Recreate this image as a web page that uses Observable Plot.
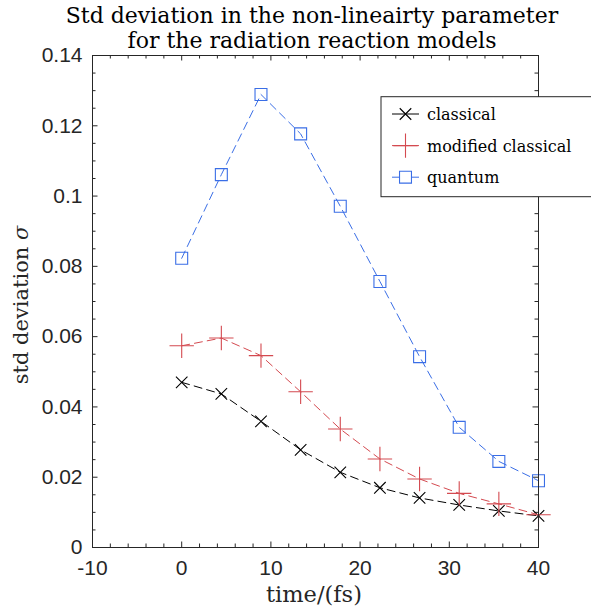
<!DOCTYPE html>
<html><head><meta charset="utf-8">
<script src="https://cdn.jsdelivr.net/npm/d3@7"></script>
<script src="https://cdn.jsdelivr.net/npm/@observablehq/plot@0.6"></script>
<style>
html,body{margin:0;padding:0;background:#fff;}
body{width:591px;height:613px;overflow:hidden;}
#title{position:relative;z-index:2;height:52px;width:591px;font-family:"DejaVu Serif","Liberation Serif",serif;font-size:22px;line-height:24px;color:#000;}
#title div{position:absolute;left:0;width:624px;text-align:center;white-space:nowrap;}
#chart svg{background:transparent;}
</style></head><body>
<div id="title"><div style="top:4px">Std deviation in the non-lineairty parameter</div><div style="top:29px">for the radiation reaction models</div></div>
<div id="chart"></div>
<script>
// ---- data ----
const time = [0, 4.444, 8.889, 13.333, 17.778, 22.222, 26.667, 31.111, 35.556, 40];
const classical = [0.0470, 0.0437, 0.0359, 0.0278, 0.0214, 0.0170, 0.0141, 0.0121, 0.0104, 0.0090];
const modifiedClassical = [0.0574, 0.0596, 0.0546, 0.0443, 0.0337, 0.0252, 0.0195, 0.0154, 0.0124, 0.0093];
const quantum = [0.0823, 0.1061, 0.1289, 0.1177, 0.0971, 0.0757, 0.0543, 0.0342, 0.0245, 0.0190];
const seriesNames = ["classical", "modified classical", "quantum"];
const xTicks = [-10, 0, 10, 20, 30, 40];
const xTickLabels = ["-10", "0", "10", "20", "30", "40"];
const xMinorTicks = [-8, -6, -4, -2, 2, 4, 6, 8, 12, 14, 16, 18, 22, 24, 26, 28, 32, 34, 36, 38];
const yTicks = [0, 0.02, 0.04, 0.06, 0.08, 0.1, 0.12, 0.14];
const yTickLabels = ["0", "0.02", "0.04", "0.06", "0.08", "0.1", "0.12", "0.14"];
const yMinorTicks = [0.005, 0.01, 0.015, 0.025, 0.03, 0.035, 0.045, 0.05, 0.055, 0.065, 0.07, 0.075,
  0.085, 0.09, 0.095, 0.105, 0.11, 0.115, 0.125, 0.13, 0.135];

// ---- styling ----
const colors = ["#000000", "#d44a50", "#3a6ee6"];
const symbols = ["times", "plus", "square2"];
const radii = [5.3, 7.9, 7.6];
const axisColor = "#262626";
const serif = "'DejaVu Serif', 'Liberation Serif', serif";
const sans = "'Liberation Sans', Arial, Helvetica, sans-serif";

const W = 591, H = 561, mT = 3, mB = 66, mL = 92, mR = 53;
const plotW = W - mL - mR, plotH = H - mT - mB;
const major = 5.5, minor = 3.5;

const seriesValues = [classical, modifiedClassical, quantum];
const table = seriesValues.map((vals, s) => time.map((t, i) => ({t, v: vals[i], s})));

const marks = [
  Plot.ruleX(xTicks, {x: d => d, insetTop: plotH - major, stroke: axisColor}),
  Plot.ruleX(xTicks, {x: d => d, insetBottom: plotH - major, stroke: axisColor}),
  Plot.ruleX(xMinorTicks, {x: d => d, insetTop: plotH - minor, stroke: axisColor}),
  Plot.ruleX(xMinorTicks, {x: d => d, insetBottom: plotH - minor, stroke: axisColor}),
  Plot.ruleY(yTicks, {y: d => d, insetRight: plotW - major, stroke: axisColor}),
  Plot.ruleY(yTicks, {y: d => d, insetLeft: plotW - major, stroke: axisColor}),
  Plot.ruleY(yMinorTicks, {y: d => d, insetRight: plotW - minor, stroke: axisColor}),
  Plot.ruleY(yMinorTicks, {y: d => d, insetLeft: plotW - minor, stroke: axisColor}),
  Plot.axisX(xTicks, {tickSize: 0, tickPadding: 13, fontSize: 21, fontFamily: sans, label: null,
    tickFormat: d => xTickLabels[xTicks.indexOf(d)]}),
  Plot.axisY(yTicks, {tickSize: 0, tickPadding: 10, fontSize: 21, fontFamily: sans, label: null,
    tickFormat: d => yTickLabels[yTicks.indexOf(d)]}),
];
table.forEach((rows, s) => {
  marks.push(Plot.line(rows, {x: "t", y: "v", stroke: colors[s], strokeWidth: 1, strokeDasharray: "8,5"}));
  marks.push(Plot.dot(rows, {x: "t", y: "v", symbol: symbols[s], r: radii[s], stroke: colors[s], fill: "none", strokeWidth: 1.1}));
});
marks.push(Plot.frame({stroke: axisColor, strokeWidth: 1}));

const chart = Plot.plot({
  width: W, height: H,
  marginTop: mT, marginBottom: mB, marginLeft: mL, marginRight: mR,
  style: {color: axisColor, background: "transparent", overflow: "visible"},
  x: {domain: [-10, 40]},
  y: {domain: [0, 0.14]},
  marks
});
document.getElementById("chart").appendChild(chart);

// ---- axis labels and legend ----
const svg = d3.select(chart);
svg.append("text")
  .attr("transform", `translate(28,${mT + plotH / 2 + 4}) rotate(-90)`)
  .attr("text-anchor", "middle").attr("font-family", serif).attr("font-size", 21).attr("fill", axisColor)
  .call(t => { t.append("tspan").text("std deviation "); t.append("tspan").attr("font-style", "italic").text("σ"); });
svg.append("text")
  .attr("x", mL + plotW / 2 - 1).attr("y", 550)
  .attr("text-anchor", "middle").attr("font-family", serif).attr("font-size", 22.5).attr("fill", axisColor)
  .text("time/(fs)");

const lg = svg.append("g").attr("transform", "translate(381,44.7)");
lg.append("rect").attr("width", 260).attr("height", 100).attr("fill", "#fff").attr("stroke", axisColor).attr("stroke-width", 1);
const symMap = {times: d3.symbolTimes, plus: d3.symbolPlus, square2: d3.symbolSquare2};
seriesNames.forEach((name, s) => {
  const y = 17.3 + s * 31.6;
  lg.append("line").attr("x1", 11).attr("x2", 38).attr("y1", y).attr("y2", y).attr("stroke", colors[s]).attr("stroke-width", 1);
  lg.append("path").attr("transform", `translate(24.5,${y})`)
    .attr("d", d3.symbol(symMap[symbols[s]], Math.PI * radii[s] * radii[s])())
    .attr("fill", s === 2 ? "#fff" : "none").attr("stroke", colors[s]).attr("stroke-width", 1.1);
  lg.append("text").attr("x", 46).attr("y", y + 6).attr("text-anchor", "start")
    .attr("font-family", serif).attr("font-size", 16).attr("fill", "#000").text(name);
});
</script>
</body></html>
